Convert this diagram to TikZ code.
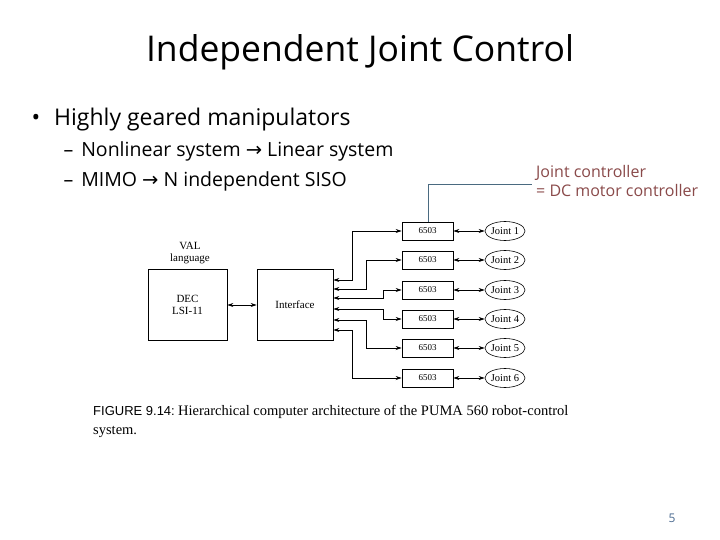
\documentclass[tikz,border=0pt]{standalone}
\usepackage{fontspec}
\setmainfont{Open Sans}
\newfontfamily\figser{Liberation Serif}
\newfontfamily\figsans{Liberation Sans}
\newfontfamily\arrf{DejaVu Sans}
\newcommand{\myarr}{{\arrf →}}
\usetikzlibrary{arrows.meta,shapes.geometric}
\definecolor{linkc}{HTML}{4A6A80}
\definecolor{notec}{HTML}{8A4A4A}
\definecolor{pgc}{HTML}{4A6A90}
\begin{document}
\begin{tikzpicture}[x=1pt,y=-1pt,
  box/.style={draw,line width=0.6pt,inner sep=0pt},
  ctl/.style={box,minimum width=51pt,minimum height=18pt,font=\figser\fontsize{9}{10}\selectfont},
  jt/.style={draw,ellipse,line width=0.6pt,minimum width=40pt,minimum height=19pt,inner sep=0pt,font=\figser\fontsize{10.5}{11}\selectfont},
  dar/.style={line width=0.7pt,{Stealth[length=6pt,width=4pt]}-{Stealth[length=6pt,width=4pt]}}]
\useasboundingbox[fill=white] (0,0) rectangle (720,540);
\node[font=\fontsize{35.5}{40}\selectfont] (title) at (360,52) {Independent Joint Control};
\node[anchor=west,font=\fontsize{23}{27}\selectfont] (b1) at (28,120) {•\hspace{14pt}Highly geared manipulators};
\node[anchor=west,font=\fontsize{19.5}{23}\selectfont] (b2) at (60,151) {–\hspace{8pt}Nonlinear system \myarr{} Linear system};
\node[anchor=west,font=\fontsize{19.5}{23}\selectfont] (b3) at (60,181) {–\hspace{8pt}MIMO \myarr{} N independent SISO};
\node[anchor=north west,align=left,text=notec,font=\fontsize{16}{19}\selectfont,inner sep=0pt] (note) at (536,165) {Joint controller\\= DC motor controller};
\node[text=pgc,font=\fontsize{12}{13}\selectfont] (pg) at (672,518) {5};

\node[box,minimum width=79pt,minimum height=71pt,align=center,font=\figser\fontsize{11}{12}\selectfont] (dec) at (187.5,304.5) {DEC\\LSI-11};
\node[align=center,font=\figser\fontsize{11}{12}\selectfont,inner sep=0pt] (val) at (190,253) {VAL\\language};
\node[box,minimum width=76pt,minimum height=71pt,font=\figser\fontsize{11}{12}\selectfont] (ifc) at (295,304.5) {Interface};
\draw[dar] (dec.east |- 0,305) -- (ifc.west |- 0,305);
\foreach \i/\y/\iy/\vx in {1/231/280/352,2/260/289/366,3/290/298/383,4/319/309/383,5/348/320/366,6/378/330/352}{
  \node[ctl] (c\i) at (427.5,\y) {6503};
  \node[jt] (j\i) at (505,\y) {Joint \i};
  \draw[dar] (c\i.east) -- (j\i.west);
  \draw[dar] (ifc.east |- 0,\iy) -| (\vx,\y) -- (c\i.west);
}
\coordinate (k) at (428,184);
\draw[linkc,line width=0.8pt] (c1.north -| k) -- (k) -- (532,184);
\node[anchor=north west,inner sep=0pt,align=left,font=\fontsize{13}{19}\selectfont] (cap) at (93,405)
 {{\figsans FIGURE 9.14:}\ {\figser\fontsize{14.5}{14}\selectfont Hierarchical computer architecture of the PUMA 560 robot-control}\\{\figser\fontsize{14.5}{14}\selectfont system.}};
\end{tikzpicture}
\end{document}
